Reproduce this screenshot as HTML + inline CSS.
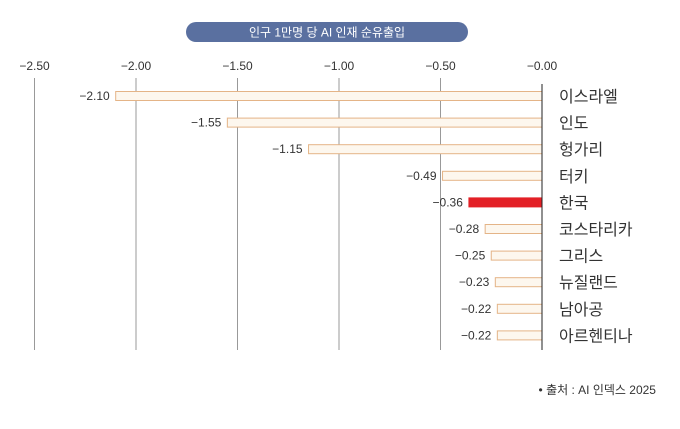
<!DOCTYPE html>
<html><head><meta charset="utf-8"><style>
body{margin:0;background:#fff;font-family:"Liberation Sans","Noto Sans CJK KR",sans-serif;}
svg text{font-family:"Liberation Sans","Noto Sans CJK KR",sans-serif;}
</style></head><body>
<svg id="chart" width="680" height="424">
<rect x="186" y="22" width="282" height="20" rx="10" fill="#5a70a0"/>
<text x="327" y="36.5" text-anchor="middle" font-size="12" fill="#fff">인구 1만명 당 AI 인재 순유출입</text>
<g id="grid"></g><g id="bars"></g>
<text x="656" y="394" text-anchor="end" font-size="12" fill="#333">• 출처 : AI 인덱스 2025</text>
</svg>
<script>
const categories=["이스라엘","인도","헝가리","터키","한국","코스타리카","그리스","뉴질랜드","남아공","아르헨티나"];
const values=[-2.10,-1.55,-1.15,-0.49,-0.36,-0.28,-0.25,-0.23,-0.22,-0.22];
const ticks=[-2.5,-2.0,-1.5,-1.0,-0.5,0];
const tickLabels=["−2.50","−2.00","−1.50","−1.00","−0.50","−0.00"];
const highlight="한국";
const NS="http://www.w3.org/2000/svg";
const x=v=>542+v*203;
const y=i=>96+i*26.6;
function mk(t,a,p){const e=document.createElementNS(NS,t);for(const k in a)e.setAttribute(k,a[k]);p.appendChild(e);return e;}
const g=document.getElementById('grid'),b=document.getElementById('bars');
ticks.forEach((t,i)=>{
 if(t!==0){const l=mk('line',{x1:x(t),x2:x(t),y1:78,y2:350,stroke:'#999','stroke-width':1},g);
 
 }
 const tx=mk('text',{x:x(t),y:70,'text-anchor':'middle','font-size':12,fill:'#333'},g);tx.textContent=tickLabels[i];
 
 
});
categories.forEach((c,i)=>{
 const hi=c===highlight;const v=values[i];
 const r=mk('rect',{x:x(v),y:y(i)-4.5,width:x(0)-x(v),height:9,fill:hi?'#e32026':'#fdf7ee',stroke:hi?'#e32026':'#e4b487','stroke-width':1},b);
 
 
 const vt=mk('text',{x:x(v)-6,y:y(i)+4,'text-anchor':'end','font-size':12,fill:'#333'},b);vt.textContent=v.toFixed(2).replace('-','−');
 
 
 const ct=mk('text',{x:559,y:y(i)+6,'font-size':16,fill:'#333'},b);ct.textContent=c;
 
 
});
const z=mk('line',{x1:x(0),x2:x(0),y1:84,y2:350,stroke:'#222','stroke-width':1},b);


</script>
</body></html>
